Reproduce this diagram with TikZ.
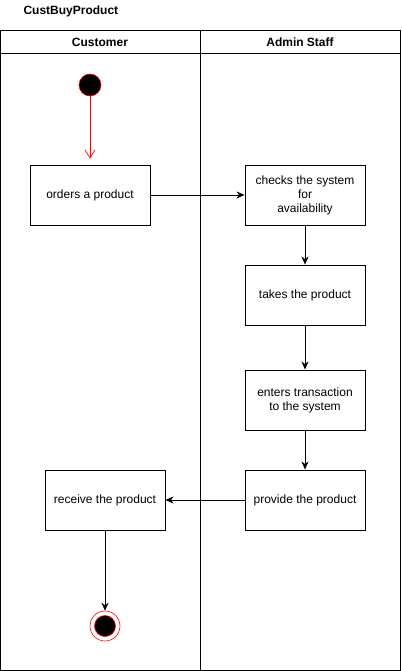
\documentclass[tikz,border=0pt]{standalone}
\usepackage{fontspec}
\setmainfont{Liberation Sans}
\usetikzlibrary{arrows.meta,positioning}
\tikzset{
act/.style={
  draw,rectangle,line width=0.9pt,minimum width=120pt,minimum height=60pt,
  align=center,inner sep=2pt,font=\fontsize{12}{14}\selectfont},
lanehead/.style={font=\bfseries\fontsize{12}{14}\selectfont},
flow/.style={-{Stealth[length=8pt,width=7pt,inset=2.5pt]},line width=0.9pt},
startflow/.style={-{Straight Barb[length=8pt,width=10pt]},draw=red,line width=0.7pt,shorten >=6pt},
initial/.style={circle,fill=black,draw=red,line width=0.6pt,minimum size=22pt,inner sep=0pt},
final/.style={circle,draw=red,line width=0.6pt,minimum size=30pt,inner sep=0pt}}

\begin{document}
\begin{tikzpicture}[x=1pt,y=-1pt]
\useasboundingbox (0,0) rectangle (401,671);

\node[anchor=west,font=\bfseries\fontsize{12}{14}\selectfont] (title) at (20,11) {CustBuyProduct};

% swimlanes
\draw[line width=0.9pt] (0,30) rectangle (400,670);
\draw[line width=0.9pt] (0,53) -- (400,53);
\draw[line width=0.9pt] (200,30) -- (200,670);
\node[lanehead] (cust) at (100,42) {Customer};
\node[lanehead] (staff) at (300,42) {Admin Staff};

\node[initial] (start) at (90,85) {};
\node[act] (orders) at (90,195) {orders a product};
\node[act] (checks) at (305,195) {checks the system\\for\\availability};
\node[act] (takes) at (305,295) {takes the product};
\node[act] (enters) at (305,400) {enters transaction\\to the system};
\node[act] (provide) at (305,500) {provide the product};
\node[act] (receive) at (105,500) {receive the product};
\node[final] (end) at (105,626) {};
\node[initial,minimum size=21pt] (endin) at (end) {};

\draw[startflow] (start) -- (orders);
\draw[flow] (orders) -- (checks);
\draw[flow] (checks) -- (takes);
\draw[flow] (takes) -- (enters);
\draw[flow] (enters) -- (provide);
\draw[flow] (provide) -- (receive);
\draw[flow] (receive) -- (end);

\end{tikzpicture}
\end{document}
